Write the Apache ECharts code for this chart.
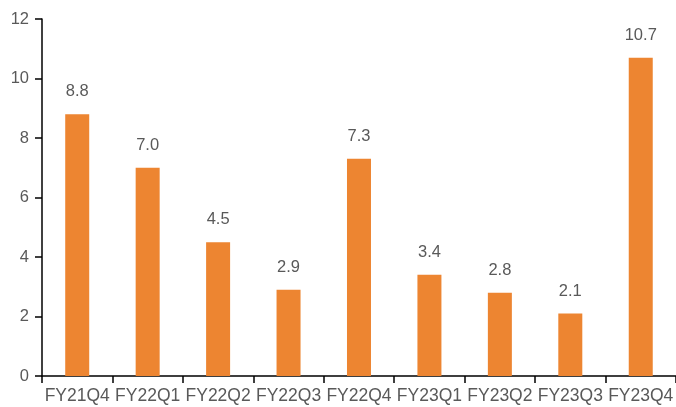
<!DOCTYPE html>
<html>
<head>
<meta charset="utf-8">
<script src="https://cdn.jsdelivr.net/npm/echarts@6/dist/echarts.min.js"></script>
<style>
  html, body { margin: 0; padding: 0; background: #fff; }
  #chart { width: 676px; height: 407px; }
</style>
</head>
<body>
<div id="chart"></div>
<script>
// Quarterly values
const categories = ['FY21Q4', 'FY22Q1', 'FY22Q2', 'FY22Q3', 'FY22Q4', 'FY23Q1', 'FY23Q2', 'FY23Q3', 'FY23Q4'];
const values = [8.8, 7.0, 4.5, 2.9, 7.3, 3.4, 2.8, 2.1, 10.7];
const yTicks = { min: 0, max: 12, interval: 2 };

const textColor = '#595959';
const fontFamily = '"Liberation Sans", Arial, sans-serif';

const chart = echarts.init(document.getElementById('chart'), null, { renderer: 'canvas' });
chart.setOption({
  animation: false,
  grid: { left: 42, top: 19, width: 640, height: 357, containLabel: false },
  xAxis: {
    type: 'category',
    data: categories,
    axisLine: { lineStyle: { color: '#000', width: 1.5 } },
    axisTick: { show: true, length: 7, lineStyle: { color: '#000', width: 1.5 } },
    axisLabel: { color: textColor, fontSize: 17.5, fontFamily: fontFamily, margin: 11, interval: 0 }
  },
  yAxis: {
    type: 'value',
    min: yTicks.min,
    max: yTicks.max,
    interval: yTicks.interval,
    splitLine: { show: false },
    axisLine: { show: true, lineStyle: { color: '#000', width: 1.5 } },
    axisTick: { show: true, length: 7, lineStyle: { color: '#000', width: 1.5 } },
    axisLabel: { color: textColor, fontSize: 16.5, fontFamily: fontFamily, margin: 13 }
  },
  series: [{
    type: 'bar',
    data: values,
    barWidth: 24,
    itemStyle: { color: '#ED8531' },
    label: {
      show: true,
      position: 'top',
      distance: 14,
      color: textColor,
      fontSize: 16.5,
      fontFamily: fontFamily,
      formatter: p => p.value.toFixed(1)
    }
  }]
});
</script>
</body>
</html>
